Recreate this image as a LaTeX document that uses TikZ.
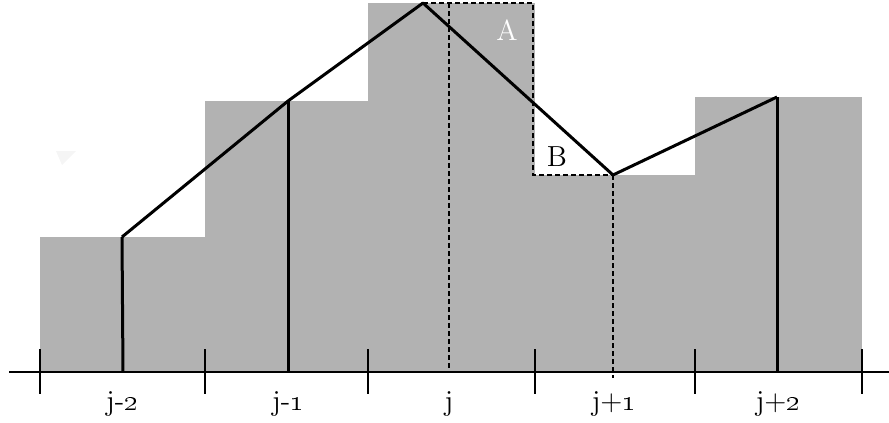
\documentclass[tikz,border=0pt]{standalone}
\begin{document}
\begin{tikzpicture}[x=0.5pt,y=-0.5pt,
  bar/.style={fill=black!30,draw=none},
  poly/.style={line width=1.5pt,line join=round},
  stem/.style={line width=1.5pt},
  dsh/.style={line width=1.4pt,dash pattern=on 2.6pt off 1.4pt},
  tick/.style={line width=1.3pt},
  lab/.style={font=\fontsize{14.5}{17}\selectfont,inner sep=0pt}]
\useasboundingbox (0,0) rectangle (889,423);
% bars
\fill[bar] (40,372) rectangle (205,237);
\fill[bar] (205,372) rectangle (368,101);
\fill[bar] (368,372) rectangle (535,3);
\fill[bar] (535,372) rectangle (695,175);
\fill[bar] (695,372) rectangle (862,97);
% faint mark
\fill[black!4] (56,151) -- (76,151) -- (62,165) -- cycle;
% points
\coordinate (p1) at (122,237);
\coordinate (p2) at (288,101);
\coordinate (p3) at (423,3);
\coordinate (p4) at (613,175);
\coordinate (p5) at (777,97);
\coordinate (b1) at (123,372);
\coordinate (b2) at (288,372);
\coordinate (b3) at (449,372);
\coordinate (b4) at (613,378);
\coordinate (b5) at (777,372);
\coordinate (t3) at (449,3);
\coordinate (c1) at (533,3);
\coordinate (c2) at (533,175);
% axis
\coordinate (a0) at (9,372);
\coordinate (a1) at (889,372);
\draw[line width=1pt] (a0) -- (a1);
\foreach \x in {40,205,368,535,695,862}
  \draw[tick] (\x,349) -- (\x,394);
% stems
\draw[stem] (p1) -- (b1);
\draw[stem] (p2) -- (b2);
\draw[stem] (p5) -- (b5);
% dashed
\draw[dsh] (t3) -- (b3);
\draw[dsh] (p4) -- (b4);
\draw[dsh] (b3) -- (613,372);
\draw[dsh] (p3) -- (c1) -- (c2) -- (p4);
% polyline
\draw[poly] (p1) -- (p2) -- (p3) -- (p4) -- (p5);
% labels
\node[lab,text=white] (A) at (507,30) {A};
\node[lab] (B) at (557,157) {B};
\node[lab,anchor=base] (l1) at (122,410) {j-\oldstylenums{2}};
\node[lab,anchor=base] (l2) at (288,410) {j-\oldstylenums{1}};
\node[lab,anchor=base] (l3) at (449,410) {j};
\node[lab,anchor=base] (l4) at (614,410) {j+\oldstylenums{1}};
\node[lab,anchor=base] (l5) at (778,410) {j+\oldstylenums{2}};
\end{tikzpicture}
\end{document}
